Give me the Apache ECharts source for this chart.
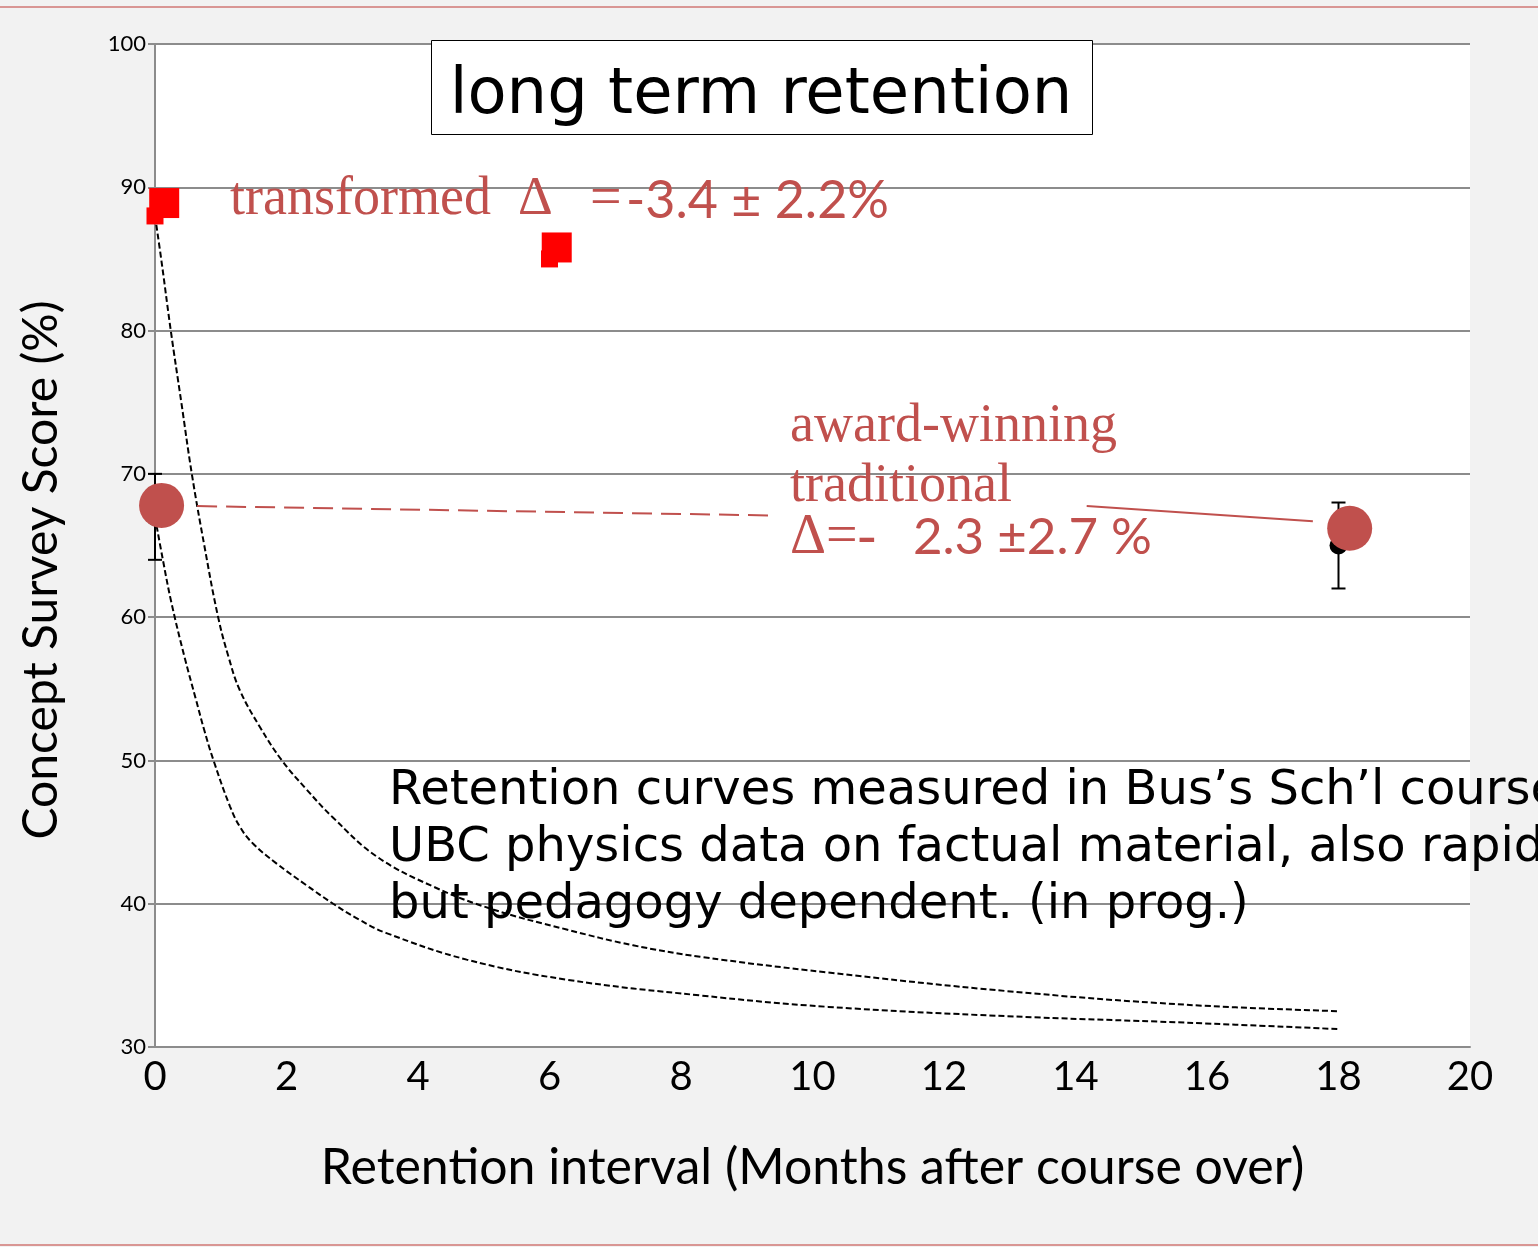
<!DOCTYPE html>
<html><head><meta charset="utf-8">
<script src="https://cdn.jsdelivr.net/npm/echarts@6/dist/echarts.min.js"></script>
<style>html,body{margin:0;padding:0;background:#f2f2f2}#c{width:1538px;height:1247px}</style>
</head><body><div id="c"></div>
<script>
// ---- axes ----
const xAxisMin = 0, xAxisMax = 20, xAxisStep = 2;
const yAxisMin = 30, yAxisMax = 100, yAxisStep = 10;

// ---- transformed course (red squares) ----
const transformedX = [0.14, 6.11];
const transformedY = [88.9, 85.8];
const transformedPreX = [0, 6];
const transformedPreY = [88.0, 85.0];

// ---- award-winning traditional (red circles) ----
const traditionalX = [0.1, 18.17];
const traditionalY = [67.8, 66.2];

// ---- measured points with error bars (black) ----
const measuredX = [0, 18];
const measuredY = [67, 65];
const measuredErr = [3, 3];

// ---- retention curves (dashed) ----
const upperCurveX = [0, 0.1, 0.24, 0.4, 0.56, 0.75, 0.96, 1.12, 1.29, 1.6, 1.93, 2.3, 2.71, 3.37, 4.23, 5.14, 6.26, 7.27, 8.29, 10.24, 12.96, 15.68, 18];
const upperCurveY = [88.0, 84.8, 80, 75, 70, 65.0, 60, 57.2, 54.9, 52.3, 50, 48, 46.0, 43.3, 41.2, 39.6, 38.2, 37.1, 36.3, 35.2, 33.9, 32.95, 32.5];
const lowerCurveX = [0, 0.12, 0.25, 0.45, 0.62, 0.75, 0.89, 1.14, 1.3, 1.49, 1.85, 2.3, 2.71, 3.1, 3.52, 4.74, 6.26, 8.29, 10.24, 12.96, 15.68, 18];
const lowerCurveY = [67, 64, 61.0, 57.2, 54.3, 52.1, 50, 46.8, 45.3, 44.2, 42.8, 41.3, 40.0, 38.9, 37.95, 36.1, 34.7, 33.6, 32.8, 32.15, 31.7, 31.25];

// ---- annotation connector lines ----
const linkX = [0.64, 9.35];
const linkY = [67.75, 67.1];
const pointerX = [14.17, 17.61];
const pointerY = [67.75, 66.7];

const RED_TXT = '#c0504d';
const zip = (a, b) => a.map((v, i) => [v, b[i]]);

const chart = echarts.init(document.getElementById('c'), null, {renderer: 'canvas'});

const option = {
  backgroundColor: '#f2f2f2',
  animation: false,
  grid: {left: 155, right: 68, top: 44, bottom: 200, show: true, backgroundColor: '#ffffff', borderWidth: 0},
  xAxis: {
    type: 'value', min: xAxisMin, max: xAxisMax, interval: xAxisStep,
    name: 'Retention interval (Months after course over)',
    nameLocation: 'middle', nameGap: 96,
    nameTextStyle: {fontFamily: 'Lato', fontSize: 50, color: '#000'},
    axisLine: {show: true, lineStyle: {color: '#8c8c8c', width: 2}},
    axisTick: {show: false},
    axisLabel: {fontFamily: 'Lato', fontSize: 40, color: '#000', margin: 10},
    splitLine: {show: false}
  },
  yAxis: {
    type: 'value', min: yAxisMin, max: yAxisMax, interval: yAxisStep,
    axisLine: {show: true, lineStyle: {color: '#8c8c8c', width: 2}},
    axisTick: {show: true, length: 7, lineStyle: {color: '#8c8c8c', width: 2}},
    axisLabel: {fontFamily: 'Lato', fontSize: 22, color: '#000', margin: 9},
    splitLine: {show: true, lineStyle: {color: '#8c8c8c', width: 2}}
  },
  series: [
    {type: 'line', data: zip(upperCurveX, upperCurveY), smooth: 0.4, symbol: 'none',
     lineStyle: {color: '#000', width: 2, type: [6, 3]}, z: 2},
    {type: 'line', data: zip(lowerCurveX, lowerCurveY), smooth: 0.4, symbol: 'none',
     lineStyle: {color: '#000', width: 2, type: [6, 3]}, z: 2},
    {type: 'line', data: zip(linkX, linkY), symbol: 'none',
     lineStyle: {color: RED_TXT, width: 2, type: [20, 9]}, z: 3},
    {type: 'line', data: zip(pointerX, pointerY), symbol: 'none',
     lineStyle: {color: RED_TXT, width: 2}, z: 3},
    {type: 'custom', z: 4,
     data: measuredX.map((x, i) => [x, measuredY[i] - measuredErr[i], measuredY[i] + measuredErr[i]]),
     renderItem: function (params, api) {
       const x = api.value(0), lo = api.value(1), hi = api.value(2);
       const pTop = api.coord([x, hi]), pBot = api.coord([x, lo]);
       const w = 7;
       const st = {stroke: '#000', lineWidth: 2};
       return {type: 'group', children: [
         {type: 'line', shape: {x1: pTop[0], y1: pTop[1], x2: pBot[0], y2: pBot[1]}, style: st},
         {type: 'line', shape: {x1: pTop[0] - w, y1: pTop[1], x2: pTop[0] + w, y2: pTop[1]}, style: st},
         {type: 'line', shape: {x1: pBot[0] - w, y1: pBot[1], x2: pBot[0] + w, y2: pBot[1]}, style: st}
       ]};
     }},
    {type: 'scatter', data: zip(measuredX, measuredY), symbol: 'circle', symbolSize: 18,
     itemStyle: {color: '#000', opacity: 1}, z: 5},
    {type: 'scatter', data: zip(transformedPreX, transformedPreY), symbol: 'rect', symbolSize: 17,
     itemStyle: {color: '#ff0000', opacity: 1}, z: 6},
    {type: 'scatter', data: zip(transformedX, transformedY), symbol: 'rect', symbolSize: 30,
     itemStyle: {color: '#ff0000', opacity: 1}, z: 7},
    {type: 'scatter', data: zip(traditionalX, traditionalY), symbol: 'circle', symbolSize: 45,
     itemStyle: {color: RED_TXT, opacity: 1}, z: 8}
  ],
  graphic: [
    {type: 'line', shape: {x1: 0, y1: 7, x2: 1538, y2: 7}, style: {stroke: '#d99694', lineWidth: 2}, z: 100},
    {type: 'line', shape: {x1: 0, y1: 1245, x2: 1538, y2: 1245}, style: {stroke: '#d99694', lineWidth: 2}, z: 100},
    {type: 'text', x: 42, y: 570, rotation: Math.PI / 2, z: 101,
     style: {text: 'Concept Survey Score (%)', fontFamily: 'Lato', fontSize: 48, fill: '#000', align: 'center', verticalAlign: 'middle'}},
    {type: 'rect', shape: {x: 431.5, y: 40.5, width: 661, height: 94}, style: {fill: '#fff', stroke: '#000', lineWidth: 1}, z: 100},
    {type: 'text', x: 761, y: 96, z: 101,
     style: {text: 'long term retention', fontFamily: 'DejaVu Sans', fontSize: 64, fill: '#000', align: 'center', verticalAlign: 'middle'}},
    {type: 'text', x: 230, y: 200, z: 101,
     style: {text: 'transformed  Δ', fontFamily: 'Liberation Serif', fontSize: 54, fill: RED_TXT, align: 'left', verticalAlign: 'middle'}},
    {type: 'text', x: 590, y: 200, z: 101,
     style: {text: '=', fontFamily: 'Liberation Serif', fontSize: 56, fill: RED_TXT, align: 'left', verticalAlign: 'middle'}},
    {type: 'text', x: 626, y: 201, z: 101,
     style: {text: '-3.4 ± 2.2%', fontFamily: 'Lato', fontSize: 52, fill: RED_TXT, align: 'left', verticalAlign: 'middle'}},
    {type: 'text', x: 790, y: 427, z: 101,
     style: {text: 'award-winning', fontFamily: 'Liberation Serif', fontSize: 54, fill: RED_TXT, align: 'left', verticalAlign: 'middle'}},
    {type: 'text', x: 790, y: 487, z: 101,
     style: {text: 'traditional', fontFamily: 'Liberation Serif', fontSize: 54, fill: RED_TXT, align: 'left', verticalAlign: 'middle'}},
    {type: 'text', x: 790, y: 538, z: 101,
     style: {text: 'Δ=-', fontFamily: 'Liberation Serif', fontSize: 56, fill: RED_TXT, align: 'left', verticalAlign: 'middle'}},
    {type: 'text', x: 913, y: 538, z: 101,
     style: {text: '2.3 ±2.7 %', fontFamily: 'Lato', fontSize: 51, fill: RED_TXT, align: 'left', verticalAlign: 'middle'}},
    {type: 'text', x: 389, y: 763, z: 101,
     style: {text: 'Retention curves measured in Bus\u2019s Sch\u2019l course\nUBC physics data on factual material, also rapid\nbut pedagogy dependent. (in prog.)',
       fontFamily: 'DejaVu Sans', fontSize: 48, lineHeight: 57, fill: '#000', align: 'left', verticalAlign: 'top'}}
  ]
};
chart.setOption(option);
</script></body></html>
